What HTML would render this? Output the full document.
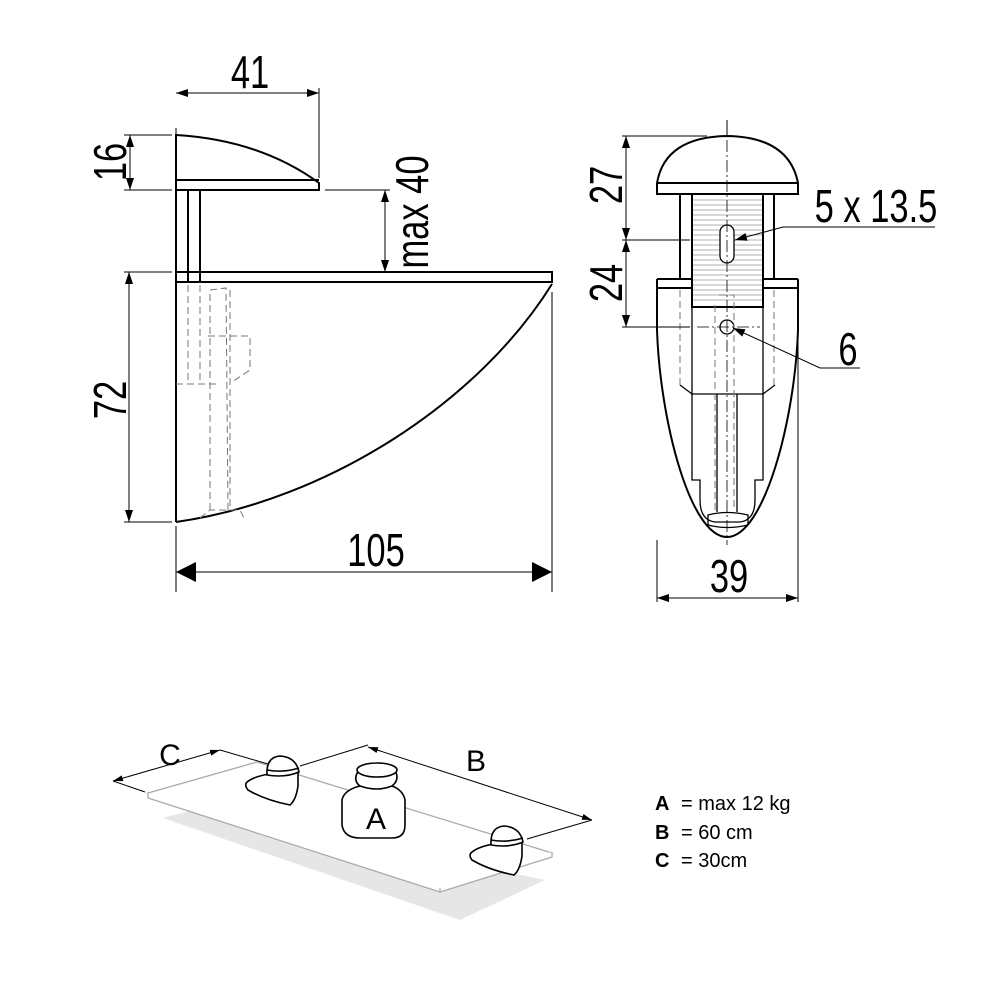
<!DOCTYPE html>
<html><head><meta charset="utf-8"><style>
html,body{margin:0;padding:0;background:#fff;}
svg{display:block;}
text{font-family:"Liberation Sans",sans-serif;}
</style></head><body>
<svg width="1001" height="1001" viewBox="0 0 1001 1001" xmlns="http://www.w3.org/2000/svg">
<defs>
<marker id="a" markerWidth="12" markerHeight="8" refX="12" refY="4" orient="auto-start-reverse" markerUnits="userSpaceOnUse"><path d="M0,0 L12,4 L0,8 Z" fill="#000"/></marker>
<marker id="b" markerWidth="20" markerHeight="20" refX="20" refY="10" orient="auto-start-reverse" markerUnits="userSpaceOnUse"><path d="M0,0 L20,10 L0,20 Z" fill="#000"/></marker>
<marker id="s" markerWidth="10" markerHeight="6" refX="10" refY="3" orient="auto-start-reverse" markerUnits="userSpaceOnUse"><path d="M0,0 L10,3 L0,6 Z" fill="#000"/></marker>
</defs>
<g fill="none" stroke="#000">
<!-- LEFT VIEW -->
<g stroke-width="2">
<path d="M176,135 Q260,140 319,183 L319,190 L176,190 Z"/>
<line x1="176" y1="180" x2="319" y2="180"/>
<line x1="176" y1="190" x2="176" y2="522"/>
<line x1="188" y1="190" x2="188" y2="282"/>
<line x1="200" y1="190" x2="200" y2="282"/>
<path d="M176,272 L552,272 L552,282 L176,282"/>
<path d="M552,284 C480,400 330,500 176,522"/>
</g>
<g stroke="#777" stroke-width="1" stroke-dasharray="7,4">
<line x1="188" y1="285" x2="188" y2="384"/>
<line x1="200" y1="285" x2="200" y2="384"/>
<line x1="176" y1="384" x2="218" y2="384"/>
<path d="M210,510 L210,290 L226,288 L228,510"/>
<line x1="230" y1="290" x2="230" y2="510"/>
<path d="M208,336 L250,336 L250,370 L232,382"/>
<path d="M200,518 L210,510 L240,510 L244,518"/>
</g>
<g stroke-width="1">
<line x1="176" y1="128" x2="176" y2="180"/>
<line x1="319" y1="88" x2="319" y2="178"/>
<line x1="176" y1="93" x2="319" y2="93" marker-start="url(#a)" marker-end="url(#a)"/>
<line x1="124" y1="135" x2="172" y2="135"/>
<line x1="124" y1="190" x2="172" y2="190"/>
<line x1="130" y1="135" x2="130" y2="190" marker-start="url(#a)" marker-end="url(#a)"/>
<line x1="325" y1="190" x2="390" y2="190"/>
<line x1="385" y1="190" x2="385" y2="272" marker-start="url(#a)" marker-end="url(#a)"/>
<line x1="124" y1="272" x2="172" y2="272"/>
<line x1="124" y1="522" x2="172" y2="522"/>
<line x1="129" y1="272" x2="129" y2="522" marker-start="url(#a)" marker-end="url(#a)"/>
<line x1="176" y1="526" x2="176" y2="592"/>
<line x1="552" y1="292" x2="552" y2="592"/>
<line x1="176" y1="572" x2="552" y2="572" marker-start="url(#b)" marker-end="url(#b)"/>
</g>
<!-- RIGHT VIEW -->
<g stroke-width="2">
<path d="M657,183 Q665,137 727,136 Q789,137 798,183 L798,194 L657,194 Z"/>
<line x1="657" y1="183" x2="798" y2="183"/>
<path d="M680,194 L680,279 M774,194 L774,279"/>
<path d="M692,194 L692,307 L763,307 L763,194"/>
<path d="M657,279 L692,279 M763,279 L798,279 M657,288 L692,288 M763,288 L798,288"/>
<path d="M657,279 L657,330 C660,420 690,537 727,537 C764,537 795,420 798,330 L798,279"/>
</g>
<g stroke="#999" stroke-width="0.8">
<path d="M693,200H762M693,205H762M693,210H762M693,215H762M693,220H762M693,225H762M693,230H762M693,235H762M693,240H762M693,245H762M693,250H762M693,255H762M693,260H762M693,265H762M693,270H762M693,275H762M693,280H762M693,285H762M693,290H762M693,295H762M693,300H762"/>
</g>
<g stroke-width="1.3">
<rect x="720" y="225" width="14" height="38" rx="7" fill="#fff"/>
<circle cx="727" cy="327" r="7"/>
<path d="M692,307 L692,394 L763,394 L763,307"/>
<path d="M692,394 L692,480 L700,480 L700,500 Q700,520 715,522 L740,522 Q755,520 755,500 L755,480 L763,480 L763,394"/>
<path d="M717,394 L717,512 M737,394 L737,512"/>
<path d="M708,515 Q727,510 748,515 L748,525 Q727,530 708,525 Z"/>
<line x1="680" y1="385" x2="692" y2="394"/><line x1="775" y1="385" x2="763" y2="394"/>
</g>
<g stroke="#777" stroke-width="1" stroke-dasharray="7,4">
<line x1="680" y1="290" x2="680" y2="385"/>
<line x1="774" y1="290" x2="774" y2="385"/>
<line x1="715" y1="305" x2="715" y2="510"/>
<path d="M719,295 L734,295 L734,510"/>
</g>
<g stroke-width="0.8" stroke-dasharray="12,3,2,3">
<line x1="727" y1="140" x2="727" y2="545"/>
<line x1="697" y1="327" x2="760" y2="327"/>
</g>
<g stroke-width="1">
<line x1="727" y1="120" x2="727" y2="136"/>
<line x1="622" y1="136" x2="707" y2="136"/>
<line x1="622" y1="240" x2="690" y2="240"/>
<line x1="622" y1="327" x2="690" y2="327"/>
<line x1="626" y1="136" x2="626" y2="240" marker-start="url(#a)" marker-end="url(#a)"/>
<line x1="626" y1="240" x2="626" y2="327" marker-start="url(#a)" marker-end="url(#a)"/>
<path d="M935,227 L783,227 L735,240" marker-end="url(#a)"/>
<path d="M860,368 L820,368 L733,328" marker-end="url(#a)"/>
<line x1="657" y1="540" x2="657" y2="602"/>
<line x1="798" y1="330" x2="798" y2="602"/>
<line x1="657" y1="598" x2="798" y2="598" marker-start="url(#a)" marker-end="url(#a)"/>
</g>
<!-- BOTTOM ILLUSTRATION -->
<polygon points="163,818 200,808 545,880 460,920" fill="#e6e6e6" stroke="none"/>
<g stroke="#aaa" stroke-width="1.3" fill="#fff">
<polygon points="148,793 257,762 552,853 440,888"/>
<path d="M148,793 L148,798 L440,892 L552,857 L552,853"/>
<line x1="440" y1="888" x2="440" y2="892"/>
</g>
<g stroke-width="1">
<line x1="113" y1="781" x2="220" y2="750" marker-start="url(#s)" marker-end="url(#s)"/>
<line x1="113" y1="781" x2="145" y2="792"/>
<line x1="220" y1="750" x2="268" y2="764"/>
<line x1="300" y1="766" x2="368" y2="745"/>
<line x1="368" y1="747" x2="592" y2="820" marker-start="url(#s)" marker-end="url(#s)"/>
<line x1="527" y1="839" x2="592" y2="820"/>
</g>
<g stroke-width="1.6" fill="#fff">
<path d="M247,782 Q260,772 298,772 L298,786 Q296,800 290,805 Q265,800 248,790 Q244,785 247,782 Z"/>
<path d="M267,775 Q266,757 280,756 Q296,757 299,772 Q285,778 267,775 Z"/>
<path d="M267,770 Q283,773 299,768"/>
<path d="M472,852 Q485,842 522,842 L522,856 Q520,870 514,875 Q489,870 472,860 Q468,855 472,852 Z"/>
<path d="M491,845 Q490,827 504,826 Q520,827 523,842 Q509,848 491,845 Z"/>
<path d="M491,840 Q507,843 523,838"/>
<path d="M359,770 Q352,780 360,786 Q344,790 342,800 L342,825 Q344,838 360,838 L392,838 Q405,838 405,825 L405,800 Q403,790 392,786 Q400,780 395,770 Z"/>
<ellipse cx="377" cy="770" rx="20" ry="7"/>
<path d="M360,786 Q377,792 392,786"/>
</g>
</g>
<!-- TEXT -->
<g fill="#000" font-size="46">
<text text-anchor="middle" transform="translate(250,88) scale(0.75,1)">41</text>
<text text-anchor="middle" transform="translate(126,162) rotate(-90) scale(0.75,1)">16</text>
<text text-anchor="middle" transform="translate(428,212) rotate(-90) scale(0.75,1)">max 40</text>
<text text-anchor="middle" transform="translate(126,400) rotate(-90) scale(0.75,1)">72</text>
<text text-anchor="middle" transform="translate(376,566) scale(0.75,1)">105</text>
<text text-anchor="middle" transform="translate(622,185) rotate(-90) scale(0.75,1)">27</text>
<text text-anchor="middle" transform="translate(622,283) rotate(-90) scale(0.75,1)">24</text>
<text text-anchor="middle" transform="translate(876,222) scale(0.75,1)">5 x 13.5</text>
<text text-anchor="middle" transform="translate(848,365) scale(0.75,1)">6</text>
<text text-anchor="middle" transform="translate(729,592) scale(0.75,1)">39</text>
</g>
<g fill="#000">
<text x="170" y="765" font-size="30" text-anchor="middle">C</text>
<text x="476" y="771" font-size="30" text-anchor="middle">B</text>
<text x="376" y="829" font-size="30" text-anchor="middle">A</text>
</g>
<g fill="#000" font-size="20">
<text x="655" y="810" font-weight="bold">A</text><text x="681" y="810">= max 12 kg</text>
<text x="655" y="839" font-weight="bold">B</text><text x="681" y="839">= 60 cm</text>
<text x="655" y="867" font-weight="bold">C</text><text x="681" y="867">= 30cm</text>
</g>
</svg>
</body></html>
